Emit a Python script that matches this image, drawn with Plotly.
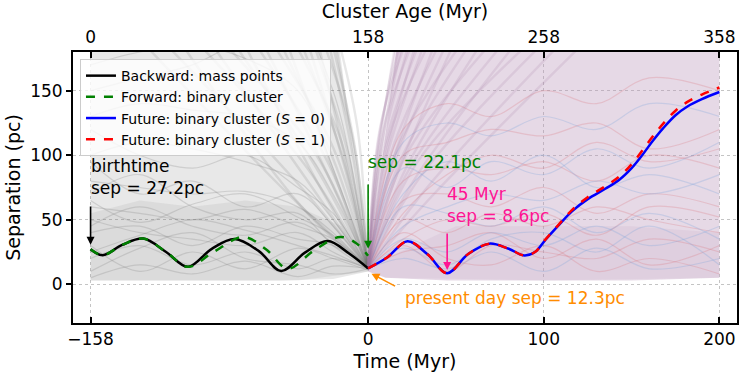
import plotly.graph_objects as go

# ---------------- data ----------------
# main trajectories (knots)
back_x = [-158, -151, -140, -128, -115, -102.5, -89, -76, -62, -49.5, -36, -23, -11, 0]
back_y = [27.2, 22.5, 30.5, 35.4, 25, 13.5, 27.5, 35, 25.5, 10.3, 24.5, 33.5, 24, 12.3]

fwd_x = [-158, -151, -140, -128, -115, -102.5, -88, -71, -58, -45.7, -31, -16, -7, 0]
fwd_y = [27.2, 22.5, 30.5, 35.4, 25, 13.5, 25, 36.7, 27, 12.1, 26, 36.7, 32, 22.1]

fut_x = [0, 11, 22.4, 34, 45, 57, 69, 80, 89, 95, 101, 108, 116, 125, 135, 143, 150,
         156, 162, 168, 175, 182, 190, 200]
fut_s0 = [12.3, 21, 33.3, 23, 8.6, 23.5, 31.5, 27.5, 22.3, 25, 34.5, 45, 56.5, 66, 74,
          81, 90, 100, 111, 121, 131, 138, 143.5, 149]
fut_s1 = [12.3, 21, 33.3, 23, 8.6, 23.5, 31.5, 27.5, 22.3, 25, 34.8, 45.5, 57.5, 67.5,
          76, 83.5, 93, 103.5, 114.5, 124.5, 134.5, 141.5, 147, 152.5]

# background ensemble: representative faint trajectories
bg_back_x = [-158, -130, -100, -70, -40, -20, 0]
bg_back_lines = [
    [5, 15, 8, 18, 6, 14, 12],
    [40, 45, 30, 45, 35, 30, 12],
    [60, 55, 50, 58, 45, 35, 13],
    [80, 75, 70, 72, 60, 40, 12],
    [100, 110, 105, 95, 80, 50, 12],
    [130, 140, 135, 130, 110, 70, 13],
    [170, 180, 185, 175, 150, 90, 12],
    [20, 30, 15, 25, 12, 20, 12],
    [50, 40, 35, 30, 40, 25, 12],
    [120, 100, 90, 100, 75, 55, 12],
    [150, 160, 170, 190, 200, 150, 12],
    [30, 10, 25, 12, 28, 20, 11],
    [70, 85, 60, 50, 55, 30, 12],
    [95, 70, 80, 60, 70, 45, 12],
    [10, 28, 40, 20, 15, 8, 12],
    [45, 60, 45, 38, 48, 32, 12],
    [25, 38, 50, 42, 30, 22, 12],
    [65, 48, 62, 70, 52, 38, 12],
]
# steep members converging on the present-day point: top x and mid-point height
bg_back_fan_top = [-130, -118, -108, -99, -91, -84, -78, -72, -66, -61, -56, -51, -47,
                   -43, -39, -35, -32, -29, -26, -23, -21, -19, -17]
bg_back_fan_mid_y = [70, 80, 60, 90, 75, 100, 85, 70, 95, 80, 105, 90, 75, 110, 95,
                     85, 100, 80, 115, 95, 105, 90, 120]

bg_fut_x = [0, 20, 45, 70, 100, 130, 160, 200]
bg_red_lines = [
    [12, 30, 10, 30, 25, 20, 35, 25],
    [12, 50, 40, 55, 45, 60, 50, 40],
    [12, 80, 90, 85, 95, 80, 100, 90],
    [12, 120, 140, 130, 150, 140, 160, 150],
    [12, 40, 20, 15, 30, 10, 20, 8],
    [12, 65, 70, 60, 75, 55, 70, 60],
    [12, 100, 110, 120, 115, 125, 105, 120],
    [12, 25, 30, 40, 20, 35, 15, 30],
    [12, 55, 85, 100, 90, 110, 95, 105],
    [12, 35, 50, 45, 55, 38, 60, 52],
]
bg_blue_lines = [
    [12, 35, 25, 40, 30, 45, 30, 45],
    [12, 60, 55, 45, 60, 40, 55, 35],
    [12, 90, 75, 95, 85, 105, 90, 110],
    [12, 20, 12, 25, 10, 28, 12, 20],
    [12, 110, 125, 115, 130, 120, 140, 130],
    [12, 45, 60, 70, 65, 80, 70, 85],
    [12, 28, 15, 35, 40, 25, 45, 15],
    [12, 70, 95, 80, 100, 75, 85, 70],
]
# steep members diverging from the present-day point: top x and mid-point height
bg_fut_fan_top = [16, 17, 18, 19, 20, 22, 24, 26, 28, 30, 33, 36, 39, 42, 46, 50, 55,
                  60, 66, 72, 79, 86, 94, 102, 112, 125]
bg_fut_fan_mid_y = [90, 100, 85, 110, 95, 120, 100, 115, 90, 105, 95, 110, 85, 100,
                    90, 80, 105, 95, 85, 100, 90, 80, 95, 85, 75, 70]

# density envelopes of the ensembles
gray_all_x = [-158, -16, 0, 0, -20, -50, -100, -158]
gray_all_y = [180, 180, 13, 10, 4, 3, 3, 3]
gray_band_x = [-158, -130, -100, -70, -40, -15, 0, 0, -40, -100, -158]
gray_band_y = [55, 65, 60, 65, 60, 45, 14, 10, 3, 3, 3]

fut_all_x = [0, 16, 200, 200, 150, 100, 45, 10, 0]
fut_all_y = [12, 180, 180, 5, 3, 3, 3, 5, 10]
fut_band_x = [0, 50, 100, 150, 200, 200, 100, 10, 0]
fut_band_y = [14, 45, 45, 45, 40, 5, 3, 5, 10]

x_ticks = [-158, 0, 100, 200]
x_ticktext = ["\u2212158", "0", "100", "200"]
age_ticktext = ["0", "158", "258", "358"]
y_ticks = [0, 50, 100, 150]

FONT = "DejaVu Sans"
TOP = 190
P0 = (0, 12.3)

fig = go.Figure()


def poly(xs, ys, color):
    fig.add_trace(go.Scatter(x=xs, y=ys, fill="toself", fillcolor=color, mode="none",
                             showlegend=False, hoverinfo="skip"))


def faint(xs, ys, color, width=1.2):
    fig.add_trace(go.Scatter(x=xs, y=ys, mode="lines", line=dict(color=color, width=width, shape="spline"),
                             showlegend=False, hoverinfo="skip"))


poly(gray_all_x, gray_all_y, "rgba(128,128,128,0.18)")
poly(gray_band_x, gray_band_y, "rgba(128,128,128,0.12)")
poly(fut_all_x, fut_all_y, "rgba(185,150,185,0.36)")
poly(fut_band_x, fut_band_y, "rgba(185,150,185,0.14)")

for ys in bg_back_lines:
    faint(bg_back_x, ys, "rgba(128,128,128,0.25)")
for xt, my in zip(bg_back_fan_top, bg_back_fan_mid_y):
    faint([xt, xt * 0.35, P0[0]], [TOP, my, P0[1]], "rgba(110,110,110,0.17)", 2.4)
for ys in bg_red_lines:
    faint(bg_fut_x, ys, "rgba(220,110,120,0.25)")
for ys in bg_blue_lines:
    faint(bg_fut_x, ys, "rgba(110,160,220,0.25)")
for xt, my in zip(bg_fut_fan_top, bg_fut_fan_mid_y):
    faint([P0[0], xt * 0.3, xt], [P0[1], my, TOP], "rgba(160,120,160,0.17)", 2.4)

fig.add_trace(go.Scatter(x=back_x, y=back_y, mode="lines", name="Backward: mass points",
                         line=dict(color="black", width=2.5, shape="spline")))
fig.add_trace(go.Scatter(x=fwd_x, y=fwd_y, mode="lines", name="Forward: binary cluster",
                         line=dict(color="green", width=2.5, dash="dash", shape="spline")))
fig.add_trace(go.Scatter(x=fut_x, y=fut_s0, mode="lines", name="Future: binary cluster (<i>S</i> = 0)",
                         line=dict(color="blue", width=2.5, shape="spline")))
fig.add_trace(go.Scatter(x=fut_x, y=fut_s1, mode="lines", name="Future: binary cluster (<i>S</i> = 1)",
                         line=dict(color="red", width=2.5, dash="dash", shape="spline")))

# invisible trace on top axis
fig.add_trace(go.Scatter(x=[x_ticks[0], x_ticks[-1]], y=[-1000, -1000], xaxis="x2", mode="markers",
                         marker=dict(opacity=0), showlegend=False, hoverinfo="skip"))

ann = []


def arrow(x0, y0, x1, y1, color):
    ann.append(dict(x=x1, y=y1, ax=x0, ay=y0, xref="x", yref="y", axref="x", ayref="y", text="",
                    showarrow=True, arrowhead=2, arrowsize=1, arrowwidth=1.6, arrowcolor=color))


def label(x, y, text, color):
    ann.append(dict(x=x, y=y, xref="x", yref="y", text=text, showarrow=False, xanchor="left",
                    yanchor="middle", align="left", font=dict(family=FONT, size=17, color=color)))


label(-159, 83, "birthtime<br>sep = 27.2pc", "black")
arrow(-158, 61.5, -158, 30.7, "black")
label(-1, 94.5, "sep = 22.1pc", "green")
arrow(0, 78.5, 0, 27.6, "green")
label(44, 61.5, "45 Myr<br>sep = 8.6pc", "deeppink")
arrow(45, 40.5, 45, 11, "deeppink")
label(20, -11, "present day sep = 12.3pc", "darkorange")
arrow(16.2, -2, 1.9, 8.2, "darkorange")

axis_common = dict(showline=True, linecolor="black", linewidth=2, tickcolor="black", tickwidth=1.5,
                   tickfont=dict(family=FONT, size=17, color="black"), zeroline=False, automargin=False)

fig.update_layout(
    width=748, height=380,
    margin=dict(l=73, r=11, t=52, b=57),
    plot_bgcolor="white", paper_bgcolor="white",
    font=dict(family=FONT, color="black"),
    annotations=ann,
    xaxis=dict(range=[-168, 210], tickvals=x_ticks, ticktext=x_ticktext, ticks="inside", ticklen=6,
               mirror=True, showgrid=True, gridcolor="#c4c4c4", griddash="dot", gridwidth=1,
               title=dict(text="Time (Myr)", font=dict(family=FONT, size=19), standoff=6), **axis_common),
    xaxis2=dict(range=[-168, 210], overlaying="x", side="top", tickvals=x_ticks, ticktext=age_ticktext,
                ticks="inside", ticklen=6, showgrid=False, anchor="y",
                title=dict(text="Cluster Age (Myr)", font=dict(family=FONT, size=19), standoff=4), **axis_common),
    yaxis=dict(range=[-30, 180], tickvals=y_ticks, ticks="outside", ticklen=5, mirror=True,
               showgrid=True, gridcolor="#c4c4c4", griddash="dot", gridwidth=1,
               title=dict(text="Separation (pc)", font=dict(family=FONT, size=19), standoff=4), **axis_common),
    legend=dict(x=0.0105, y=0.974, xanchor="left", yanchor="top", bgcolor="rgba(255,255,255,0.8)",
                bordercolor="#cccccc", borderwidth=1, font=dict(family=FONT, size=14, color="black"),
                tracegroupgap=0),
)

fig.write_html("out.html", config={"displayModeBar": False},
               post_script="document.body.style.margin='0';document.body.style.padding='0';")
